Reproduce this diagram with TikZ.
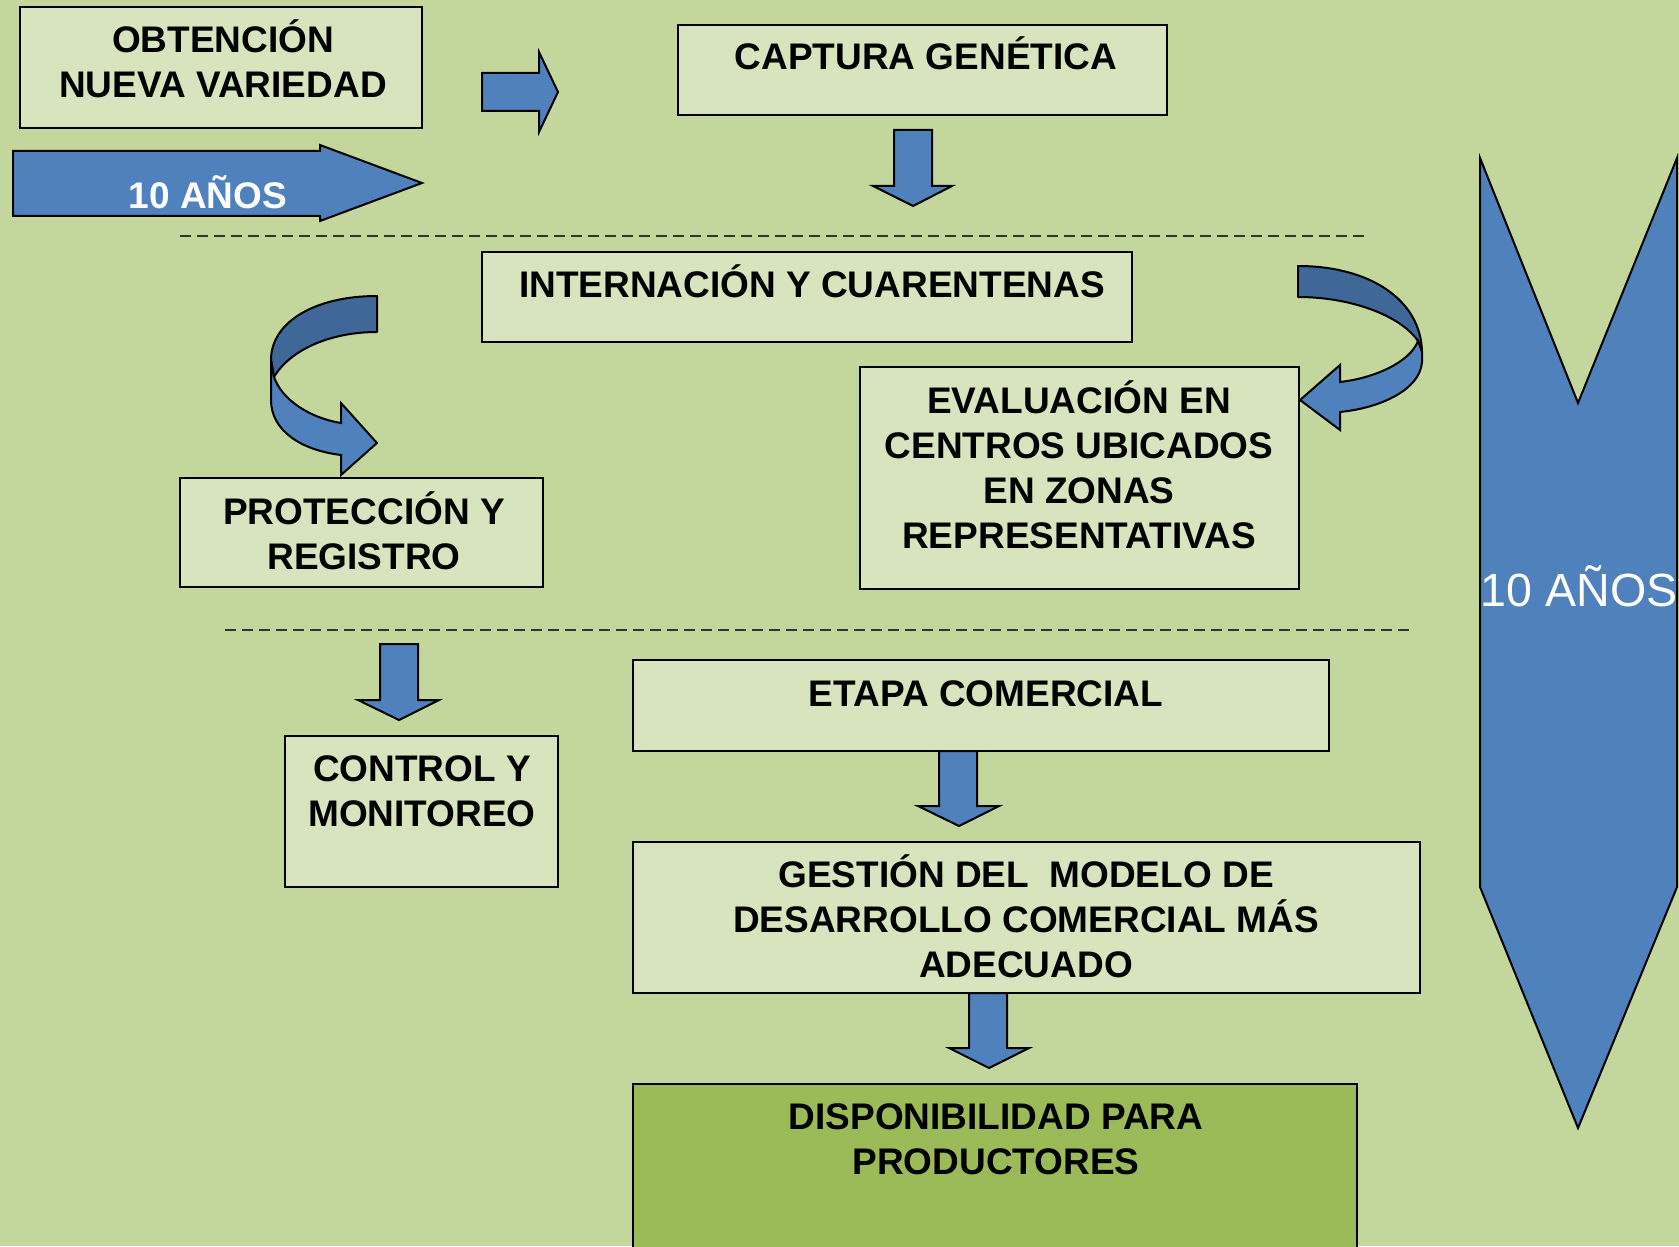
\documentclass[tikz,border=0pt]{standalone}
\usepackage{fontspec}
\setmainfont{Liberation Sans}
\usetikzlibrary{fit}
\definecolor{bg}{HTML}{C3D69B}
\definecolor{boxfill}{HTML}{D7E4BD}
\definecolor{dispfill}{HTML}{9BBB59}
\definecolor{arrblue}{HTML}{4F81BD}
\definecolor{arrdark}{HTML}{3F6798}
\begin{document}
\begin{tikzpicture}[x=0.5pt,y=-0.5pt,
  box/.style={draw=black, line width=1pt, fill=boxfill, inner sep=0pt},
  lbl/.style={font=\fontsize{18.5}{22.5}\selectfont\bfseries, align=center, inner sep=0pt},
  blockarrow/.style={draw=black, line width=1pt, fill=arrblue, line join=miter},
  twist/.style={draw=black, line width=1pt, fill=arrdark, line join=round},
  sep/.style={draw=black!80, line width=0.7pt, dash pattern=on 5.5pt off 3pt}]
\useasboundingbox (0,0) rectangle (1679,1246);
\fill[bg] (0,0) rectangle (1679,1246);

% boxes
\node[box, fit={(20,7) (422,128)}] (obt) {};
\node[box, fit={(678,25) (1167,115)}] (cap) {};
\node[box, fit={(482,252) (1132,342)}] (int) {};
\node[box, fit={(860,367) (1299,589)}] (eva) {};
\node[box, fit={(180,478) (543,587)}] (pro) {};
\node[box, fit={(285,736) (558,887)}] (con) {};
\node[box, fit={(633,660) (1329,751)}] (eta) {};
\node[box, fit={(633,842) (1420,993)}] (ges) {};
\node[box, fill=dispfill, fit={(633,1084) (1357,1270)}] (dis) {};

% texts
\node[lbl] (obt-t) at (223,59) {OBTENCIÓN\\NUEVA VARIEDAD};
\node[lbl] (cap-t) at (926,53) {CAPTURA GENÉTICA};
\node[lbl] (int-t) at (812,281) {INTERNACIÓN Y CUARENTENAS};
\node[lbl] (eva-t) at (1079,465) {EVALUACIÓN EN\\CENTROS UBICADOS\\EN ZONAS\\REPRESENTATIVAS};
\node[lbl] (pro-t) at (364,531) {PROTECCIÓN Y\\REGISTRO};
\node[lbl] (con-t) at (422,791) {CONTROL Y\\MONITOREO};
\node[lbl] (eta-t) at (986,694) {ETAPA COMERCIAL};
\node[lbl] (ges-t) at (1026,916) {GESTIÓN DEL\ \ MODELO DE\\DESARROLLO COMERCIAL MÁS\\ADECUADO};
\node[lbl] (dis-t) at (996,1139) {DISPONIBILIDAD PARA\\PRODUCTORES};

% dashed separators
\coordinate (d1a) at (180,236); \coordinate (d1b) at (1365,236);
\coordinate (d2a) at (225,630); \coordinate (d2b) at (1411,630);
\draw[sep] (d1a) -- (d1b);
\draw[sep] (d2a) -- (d2b);

% big left arrow
\path[blockarrow] (13,151) -- (320,151) -- (320,145) -- (422,183) -- (320,221) -- (320,216) -- (13,216) -- cycle;
\node[lbl, text=white] (ten1) at (208,192) {10 AÑOS};

% small right arrow
\path[blockarrow] (482,73) -- (539,73) -- (539,52) -- (558,92) -- (539,132) -- (539,111) -- (482,111) -- cycle;

% down arrows
\path[blockarrow] (894,130) -- (932,130) -- (932,186) -- (952,186) -- (913,206) -- (873,186) -- (894,186) -- cycle;
\path[blockarrow] (380,644) -- (418,644) -- (418,700) -- (439,700) -- (399,720) -- (358,700) -- (380,700) -- cycle;
\path[blockarrow] (939,751) -- (977,751) -- (977,806) -- (999,806) -- (959,826) -- (918,806) -- (939,806) -- cycle;
\path[blockarrow] (969,993) -- (1007,993) -- (1007,1048) -- (1029,1048) -- (989,1068) -- (949,1048) -- (969,1048) -- cycle;

% left curved arrow
\path[twist] (377,296) .. controls (315,296) and (271,322) .. (271,360) -- (274,377) .. controls (290,350) and (330,332) .. (377,332) -- cycle;
\path[blockarrow] (271,360) -- (271,400) .. controls (271,430) and (300,450) .. (341,455) -- (341,475) -- (377,443) -- (341,403) -- (341,423) .. controls (310,418) and (282,400) .. (274,377) -- cycle;

% right curved arrow
\path[twist] (1298,266) .. controls (1370,266) and (1421,300) .. (1422,352) -- (1418,341) .. controls (1400,315) and (1350,297) .. (1298,297) -- cycle;
\path[blockarrow] (1422,352) -- (1422,362) .. controls (1420,390) and (1380,408) .. (1340,412) -- (1340,430) -- (1300,400) -- (1340,365) -- (1340,382) .. controls (1375,378) and (1410,362) .. (1418,341) -- cycle;

% right chevron
\path[blockarrow] (1480,158) -- (1578,403) -- (1677,158) -- (1677,887) -- (1578,1128) -- (1480,887) -- cycle;
\node[font=\fontsize{23.3}{27}\selectfont, text=white, inner sep=0pt] (ten2) at (1579,586) {10 AÑOS};
\end{tikzpicture}
\end{document}
